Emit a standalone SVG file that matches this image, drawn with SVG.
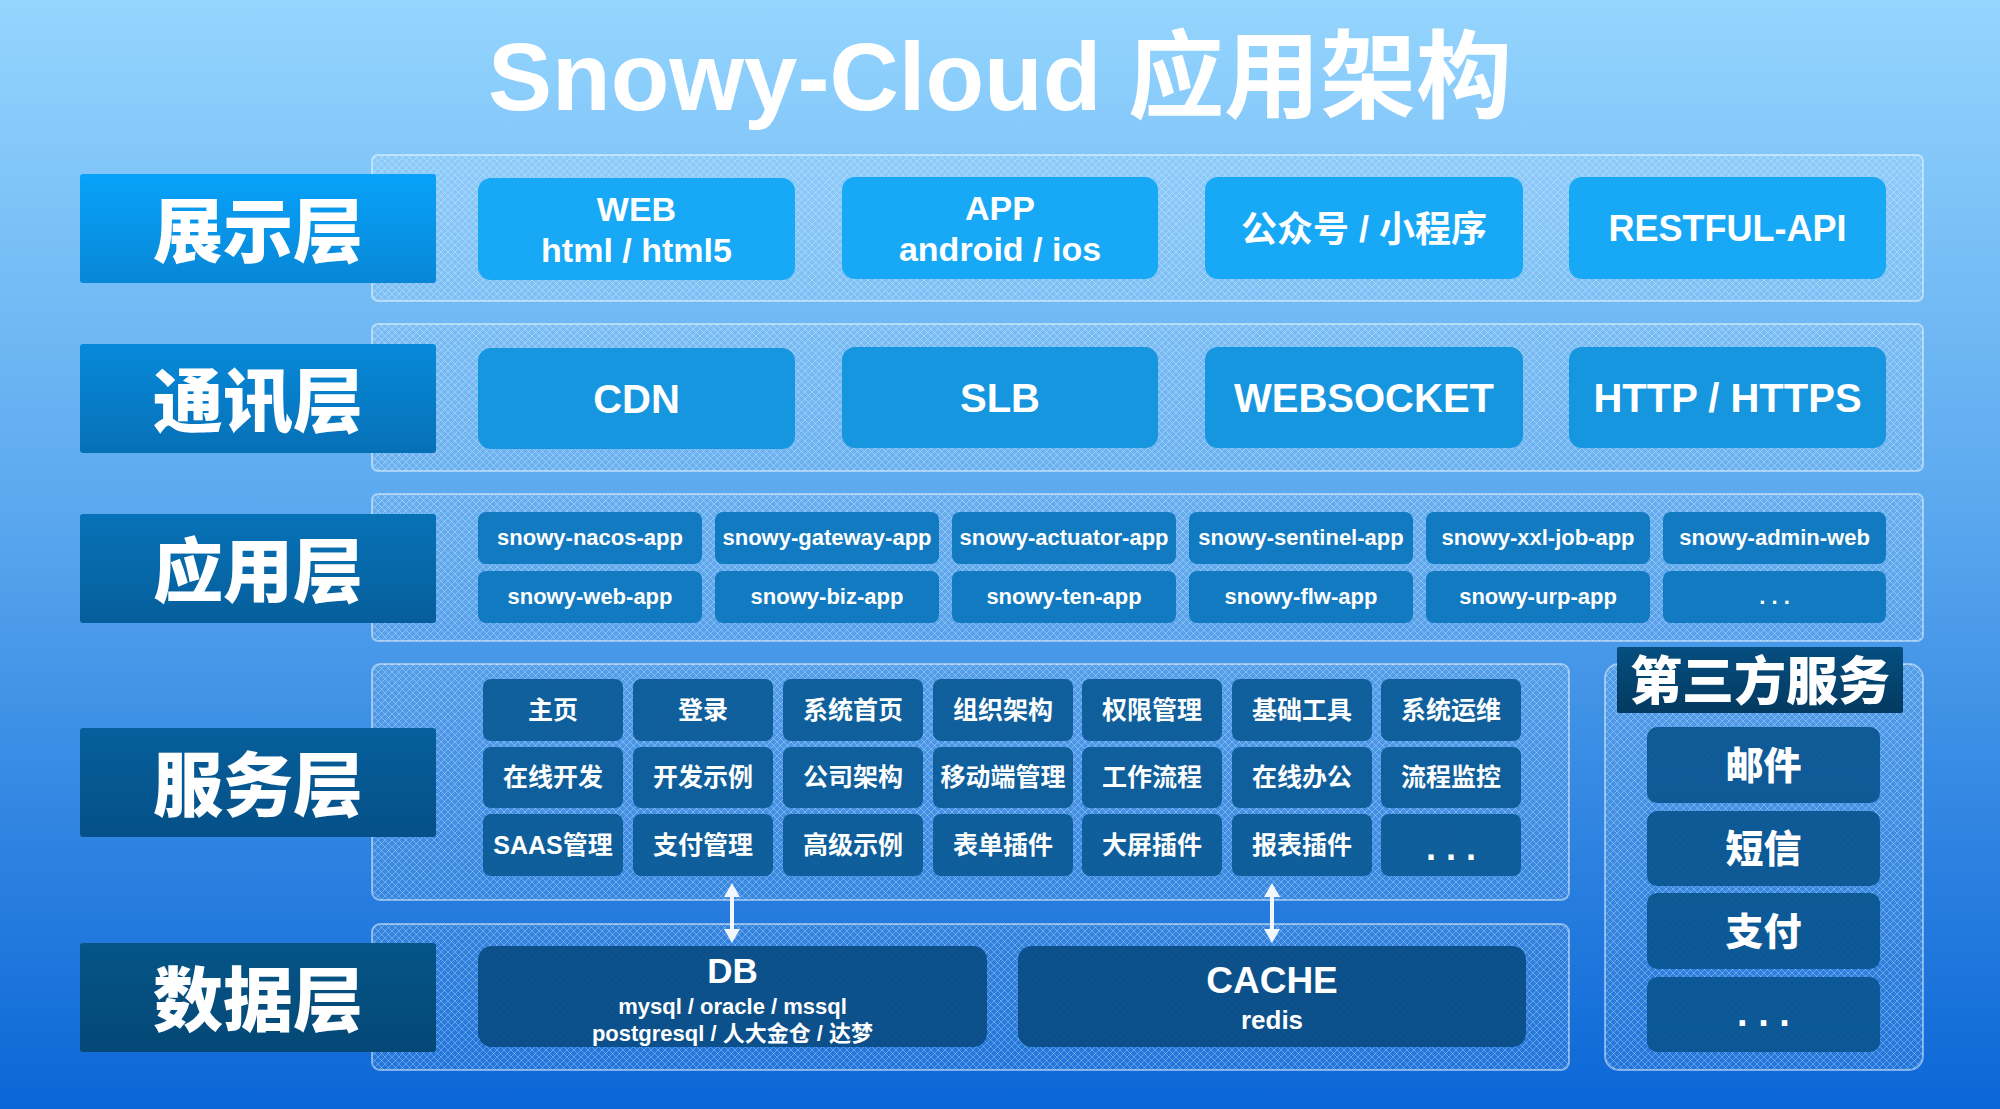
<svg xmlns="http://www.w3.org/2000/svg" width="2000" height="1109" viewBox="0 0 2000 1109">
<defs>
<linearGradient id="bg" x1="0" y1="0" x2="0" y2="1">
<stop offset="0" stop-color="#95d5fe"/>
<stop offset="0.45" stop-color="#5ca9ef"/>
<stop offset="1" stop-color="#0b66d6"/>
</linearGradient>
<linearGradient id="l1" x1="0" y1="0" x2="0" y2="1"><stop offset="0" stop-color="#07a2fa"/><stop offset="1" stop-color="#0887d6"/></linearGradient>
<linearGradient id="l2" x1="0" y1="0" x2="0" y2="1"><stop offset="0" stop-color="#078ada"/><stop offset="1" stop-color="#0670b6"/></linearGradient>
<linearGradient id="l3" x1="0" y1="0" x2="0" y2="1"><stop offset="0" stop-color="#0772b7"/><stop offset="1" stop-color="#065e9b"/></linearGradient>
<linearGradient id="l4" x1="0" y1="0" x2="0" y2="1"><stop offset="0" stop-color="#065f9b"/><stop offset="1" stop-color="#055088"/></linearGradient>
<linearGradient id="l5" x1="0" y1="0" x2="0" y2="1"><stop offset="0" stop-color="#055588"/><stop offset="1" stop-color="#044876"/></linearGradient>
<linearGradient id="l6" x1="0" y1="0" x2="0" y2="1"><stop offset="0" stop-color="#054e80"/><stop offset="1" stop-color="#033a60"/></linearGradient>
<pattern id="hatch" patternUnits="userSpaceOnUse" width="7" height="7">
<path d="M0,0 L7,7 M7,0 L0,7" stroke="#ffffff" stroke-opacity="0.32" stroke-width="0.9" fill="none"/>
</pattern>
<marker id="ah" viewBox="0 0 14 16" refX="0" refY="8" markerWidth="14" markerHeight="16" markerUnits="userSpaceOnUse" orient="auto-start-reverse">
<path d="M0,0 L14,8 L0,16 z" fill="#f2f7fd"/>
</marker>
<style>
text{fill:#ffffff;font-family:"Liberation Sans","Noto Sans CJK SC",sans-serif;font-weight:bold;text-anchor:middle}
.title{font-size:96px}
.lab{font-size:70px;font-family:"Noto Sans CJK SC",sans-serif;font-weight:900}
.t34{font-size:34px}
.t36{font-size:36px}
.t40{font-size:40px}
.t22{font-size:22px}
.t26{font-size:25px}
.t38{font-size:38px}
.panel{fill:url(#hatch);stroke:#ffffff;stroke-opacity:0.45;stroke-width:2}
.pbase{fill:#ffffff;fill-opacity:0.08}
.b1{fill:#17a8f6}
.b2{fill:#1596df}
.b3{fill:#127ac1}
.b4{fill:#0a5a96;fill-opacity:0.93}
.b5{fill:#094c84;fill-opacity:0.93}
.b6{fill:#0a5590;fill-opacity:0.93}
</style>
</defs>

<rect x="0" y="0" width="2000" height="1109" fill="url(#bg)"/>

<text id="title" class="title" x="1000" y="110">Snowy-Cloud 应用架构</text>

<!-- panels -->
<g id="panels">
<rect class="pbase" x="372" y="155" width="1551" height="146" rx="6"/>
<rect class="panel" x="372" y="155" width="1551" height="146" rx="6"/>
<rect class="pbase" x="372" y="324" width="1551" height="147" rx="6"/>
<rect class="panel" x="372" y="324" width="1551" height="147" rx="6"/>
<rect class="pbase" x="372" y="494" width="1551" height="147" rx="6"/>
<rect class="panel" x="372" y="494" width="1551" height="147" rx="6"/>
<rect class="pbase" x="372" y="664" width="1197" height="236" rx="8"/>
<rect class="panel" x="372" y="664" width="1197" height="236" rx="8"/>
<rect class="pbase" x="372" y="924" width="1197" height="146" rx="8"/>
<rect class="panel" x="372" y="924" width="1197" height="146" rx="8"/>
<rect class="pbase" x="1605" y="664" width="318" height="406" rx="14"/>
<rect class="panel" x="1605" y="664" width="318" height="406" rx="14"/>
</g>

<!-- layer labels -->
<g id="label-presentation"><rect x="80" y="174" width="356" height="109" rx="3" fill="url(#l1)"/><text class="lab" x="258" y="257">展示层</text></g>
<g id="label-communication"><rect x="80" y="344" width="356" height="109" rx="3" fill="url(#l2)"/><text class="lab" x="258" y="427">通讯层</text></g>
<g id="label-application"><rect x="80" y="514" width="356" height="109" rx="3" fill="url(#l3)"/><text class="lab" x="258" y="597">应用层</text></g>
<g id="label-service"><rect x="80" y="728" width="356" height="109" rx="3" fill="url(#l4)"/><text class="lab" x="258" y="811">服务层</text></g>
<g id="label-data"><rect x="80" y="943" width="356" height="109" rx="3" fill="url(#l5)"/><text class="lab" x="258" y="1026">数据层</text></g>

<!-- presentation row -->
<g id="web"><rect class="b1" x="478" y="178" width="317" height="102" rx="13"/><text class="t34" x="636.5" y="221">WEB</text><text class="t34" x="636.5" y="262">html / html5</text></g>
<g id="app"><rect class="b1" x="842" y="177" width="316" height="102" rx="13"/><text class="t34" x="1000" y="220">APP</text><text class="t34" x="1000" y="261">android / ios</text></g>
<g id="wechat"><rect class="b1" x="1205" y="177" width="318" height="102" rx="13"/><text class="t36" x="1364" y="242">公众号 / 小程序</text></g>
<g id="restful"><rect class="b1" x="1569" y="177" width="317" height="102" rx="13"/><text class="t36" x="1727.5" y="241">RESTFUL-API</text></g>

<!-- communication row -->
<g id="cdn"><rect class="b2" x="478" y="348" width="317" height="101" rx="13"/><text class="t40" x="636.5" y="413">CDN</text></g>
<g id="slb"><rect class="b2" x="842" y="347" width="316" height="101" rx="13"/><text class="t40" x="1000" y="412">SLB</text></g>
<g id="websocket"><rect class="b2" x="1205" y="347" width="318" height="101" rx="13"/><text class="t40" x="1364" y="412">WEBSOCKET</text></g>
<g id="http"><rect class="b2" x="1569" y="347" width="317" height="101" rx="13"/><text class="t40" x="1727.5" y="412">HTTP / HTTPS</text></g>

<!-- application row -->
<g id="apps">
<g id="app-nacos"><rect class="b3" x="478" y="512" width="224" height="52" rx="8"/><text class="t22" x="590" y="545">snowy-nacos-app</text></g>
<g id="app-gateway"><rect class="b3" x="715" y="512" width="224" height="52" rx="8"/><text class="t22" x="827" y="545">snowy-gateway-app</text></g>
<g id="app-actuator"><rect class="b3" x="952" y="512" width="224" height="52" rx="8"/><text class="t22" x="1064" y="545">snowy-actuator-app</text></g>
<g id="app-sentinel"><rect class="b3" x="1189" y="512" width="224" height="52" rx="8"/><text class="t22" x="1301" y="545">snowy-sentinel-app</text></g>
<g id="app-xxljob"><rect class="b3" x="1426" y="512" width="224" height="52" rx="8"/><text class="t22" x="1538" y="545">snowy-xxl-job-app</text></g>
<g id="app-adminweb"><rect class="b3" x="1663" y="512" width="223" height="52" rx="8"/><text class="t22" x="1774.5" y="545">snowy-admin-web</text></g>
<g id="app-web"><rect class="b3" x="478" y="571" width="224" height="52" rx="8"/><text class="t22" x="590" y="604">snowy-web-app</text></g>
<g id="app-biz"><rect class="b3" x="715" y="571" width="224" height="52" rx="8"/><text class="t22" x="827" y="604">snowy-biz-app</text></g>
<g id="app-ten"><rect class="b3" x="952" y="571" width="224" height="52" rx="8"/><text class="t22" x="1064" y="604">snowy-ten-app</text></g>
<g id="app-flw"><rect class="b3" x="1189" y="571" width="224" height="52" rx="8"/><text class="t22" x="1301" y="604">snowy-flw-app</text></g>
<g id="app-urp"><rect class="b3" x="1426" y="571" width="224" height="52" rx="8"/><text class="t22" x="1538" y="604">snowy-urp-app</text></g>
<g id="app-more"><rect class="b3" x="1663" y="571" width="223" height="52" rx="8"/><text class="t22" x="1774.5" y="604">. . .</text></g>
</g>

<!-- service grid -->
<g id="services">
<g id="s-home"><rect class="b4" x="483" y="679" width="140" height="62" rx="8"/><text class="t26" x="553" y="719">主页</text></g>
<g id="s-login"><rect class="b4" x="633" y="679" width="140" height="62" rx="8"/><text class="t26" x="703" y="719">登录</text></g>
<g id="s-sysindex"><rect class="b4" x="783" y="679" width="140" height="62" rx="8"/><text class="t26" x="853" y="719">系统首页</text></g>
<g id="s-org"><rect class="b4" x="933" y="679" width="140" height="62" rx="8"/><text class="t26" x="1003" y="719">组织架构</text></g>
<g id="s-auth"><rect class="b4" x="1082" y="679" width="140" height="62" rx="8"/><text class="t26" x="1152" y="719">权限管理</text></g>
<g id="s-tools"><rect class="b4" x="1232" y="679" width="140" height="62" rx="8"/><text class="t26" x="1302" y="719">基础工具</text></g>
<g id="s-ops"><rect class="b4" x="1381" y="679" width="140" height="62" rx="8"/><text class="t26" x="1451" y="719">系统运维</text></g>

<g id="s-dev"><rect class="b4" x="483" y="747" width="140" height="61" rx="8"/><text class="t26" x="553" y="786">在线开发</text></g>
<g id="s-devdemo"><rect class="b4" x="633" y="747" width="140" height="61" rx="8"/><text class="t26" x="703" y="786">开发示例</text></g>
<g id="s-company"><rect class="b4" x="783" y="747" width="140" height="61" rx="8"/><text class="t26" x="853" y="786">公司架构</text></g>
<g id="s-mobile"><rect class="b4" x="933" y="747" width="140" height="61" rx="8"/><text class="t26" x="1003" y="786">移动端管理</text></g>
<g id="s-flow"><rect class="b4" x="1082" y="747" width="140" height="61" rx="8"/><text class="t26" x="1152" y="786">工作流程</text></g>
<g id="s-office"><rect class="b4" x="1232" y="747" width="140" height="61" rx="8"/><text class="t26" x="1302" y="786">在线办公</text></g>
<g id="s-monitor"><rect class="b4" x="1381" y="747" width="140" height="61" rx="8"/><text class="t26" x="1451" y="786">流程监控</text></g>

<g id="s-saas"><rect class="b4" x="483" y="814" width="140" height="62" rx="8"/><text class="t26" x="553" y="854">SAAS管理</text></g>
<g id="s-pay"><rect class="b4" x="633" y="814" width="140" height="62" rx="8"/><text class="t26" x="703" y="854">支付管理</text></g>
<g id="s-advdemo"><rect class="b4" x="783" y="814" width="140" height="62" rx="8"/><text class="t26" x="853" y="854">高级示例</text></g>
<g id="s-form"><rect class="b4" x="933" y="814" width="140" height="62" rx="8"/><text class="t26" x="1003" y="854">表单插件</text></g>
<g id="s-screen"><rect class="b4" x="1082" y="814" width="140" height="62" rx="8"/><text class="t26" x="1152" y="854">大屏插件</text></g>
<g id="s-report"><rect class="b4" x="1232" y="814" width="140" height="62" rx="8"/><text class="t26" x="1302" y="854">报表插件</text></g>
<g id="s-more"><rect class="b4" x="1381" y="814" width="140" height="62" rx="8"/><text class="t36" x="1451" y="860">. . .</text></g>
</g>

<!-- data row -->
<g id="db"><rect class="b5" x="478" y="946" width="509" height="101" rx="14"/><text x="732.5" y="983" style="font-size:35px">DB</text><text x="732.5" y="1014" style="font-size:22px">mysql / oracle / mssql</text><text x="732.5" y="1041" style="font-size:22px">postgresql / 人大金仓 / 达梦</text></g>
<g id="cache"><rect class="b5" x="1018" y="946" width="508" height="101" rx="14"/><text x="1272" y="993" style="font-size:37px">CACHE</text><text x="1272" y="1029" style="font-size:26px">redis</text></g>

<!-- third-party -->
<g id="third-party-title"><rect x="1617" y="647" width="286" height="66" rx="2" fill="url(#l6)"/><text class="lab" x="1760" y="700" style="font-size:52px">第三方服务</text></g>
<g id="tp-mail"><rect class="b6" x="1647" y="727" width="233" height="76" rx="10"/><text class="lab" x="1763.5" y="779" style="font-size:38px">邮件</text></g>
<g id="tp-sms"><rect class="b6" x="1647" y="811" width="233" height="75" rx="10"/><text class="lab" x="1763.5" y="862" style="font-size:38px">短信</text></g>
<g id="tp-pay"><rect class="b6" x="1647" y="893" width="233" height="76" rx="10"/><text class="lab" x="1763.5" y="945" style="font-size:38px">支付</text></g>
<g id="tp-more"><rect class="b6" x="1647" y="977" width="233" height="75" rx="10"/><text class="t38" x="1763.5" y="1026">. . .</text></g>

<!-- connectors -->
<g id="connectors">
<line x1="732" y1="897" x2="732" y2="929" stroke="#f2f7fd" stroke-width="4" marker-start="url(#ah)" marker-end="url(#ah)"/>
<line x1="1272" y1="897" x2="1272" y2="929" stroke="#f2f7fd" stroke-width="4" marker-start="url(#ah)" marker-end="url(#ah)"/>
</g>
</svg>
